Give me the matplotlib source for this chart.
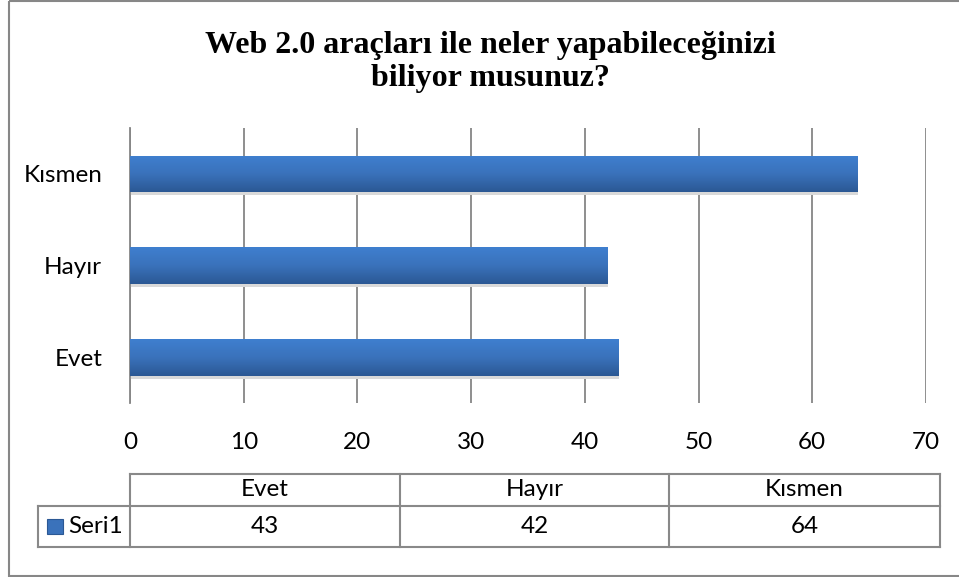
import matplotlib.pyplot as plt
import numpy as np
from matplotlib.colors import LinearSegmentedColormap
from matplotlib.patches import Rectangle

categories = ['Evet', 'Hayır', 'Kısmen']
values = [43, 42, 64]
series_name = 'Seri1'
title = 'Web 2.0 araçları ile neler yapabileceğinizi\nbiliyor musunuz?'

W, H = 959, 577
plt.rcParams['font.family'] = ['Lato', 'DejaVu Sans']
fig = plt.figure(figsize=(W / 100, H / 100), dpi=100)

# overlay axes in pixel units for frame + data table
pax = fig.add_axes([0, 0, 1, 1], zorder=5)
pax.set_xlim(0, W)
pax.set_ylim(H, 0)
pax.axis('off')
pax.patch.set_alpha(0)
pax.add_patch(Rectangle((9, 1), W, 575, fill=False, edgecolor='#878787', lw=1.5))

ax = fig.add_axes([130 / W, 1 - 403 / H, (926 - 130) / W, (403 - 128) / H])
y = np.arange(len(categories))
bh = 0.40

# shadow
ax.barh(y - 0.035, values, height=bh, color='#d9d9d9', zorder=2)
bars = ax.barh(y, values, height=bh, color='#3a74be', zorder=3)

cmap = LinearSegmentedColormap.from_list('b', ['#2b5894', '#3a72bb', '#3f7fcf'])
grad = np.linspace(0, 1, 100).reshape(-1, 1)
for b in bars:
    x0, y0 = b.get_x(), b.get_y()
    im = ax.imshow(grad, cmap=cmap, aspect='auto', origin='lower',
                   extent=[x0, x0 + b.get_width(), y0, y0 + b.get_height()], zorder=4)
    im.set_clip_path(b)

ax.set_xlim(0, 70)
ax.set_ylim(-0.5, len(categories) - 0.5)
ax.set_xticks(range(0, 71, 10))
ax.set_yticks(y)
ax.set_yticklabels(categories)
ax.tick_params(length=0, labelsize=17.5, colors='black')
ax.tick_params(axis='x', pad=21)
ax.tick_params(axis='y', pad=20)
ax.grid(axis='x', color='#868686', lw=1.3, zorder=1)
for s in ['top', 'right', 'bottom']:
    ax.spines[s].set_visible(False)
ax.spines['left'].set_color('#868686')
ax.spines['left'].set_linewidth(1.3)

fig.text(490 / W, 1 - 62 / H, title, ha='center', va='center', fontsize=23,
         fontweight='bold', family='Liberation Serif', linespacing=1.15)

# data table (pixel layout)
cols = [130, 400, 669, 940]
left, top, mid, bot = 38, 474, 506, 547
lc = dict(color='#898989', lw=1.5)
pax.plot([cols[0], cols[-1]], [top, top], **lc)
pax.plot([left, cols[-1]], [mid, mid], **lc)
pax.plot([left, cols[-1]], [bot, bot], **lc)
pax.plot([left, left], [mid, bot], **lc)
for cx in cols:
    pax.plot([cx, cx], [top, bot], **lc)
for i, (cat, v) in enumerate(zip(categories, values)):
    xc = (cols[i] + cols[i + 1]) / 2
    pax.text(xc, (top + mid) / 2, cat, ha='center', va='center', fontsize=17.5)
    pax.text(xc, (mid + bot) / 2, str(v), ha='center', va='center', fontsize=17.5)
pax.add_patch(Rectangle((47, 519), 16, 15, facecolor='#3a72bb', edgecolor='#2b5894', lw=0.8))
pax.text(68, (mid + bot) / 2, series_name, ha='left', va='center', fontsize=17.5)

fig.savefig('out.png', dpi=100)
